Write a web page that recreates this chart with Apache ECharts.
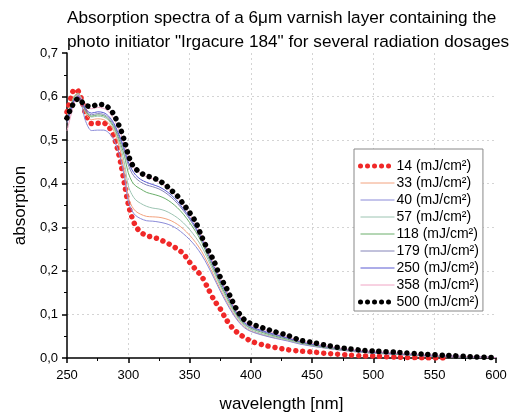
<!DOCTYPE html>
<html>
<head>
<meta charset="utf-8">
<script src="https://cdn.jsdelivr.net/npm/echarts@6/dist/echarts.min.js"></script>
<style>html,body{margin:0;padding:0;background:#fff}#c{width:517px;height:418px}</style>
</head>
<body>
<div id="c"></div>
<script>
var wavelengths = [250,253,256,259,262,265,270,275,280,284,288,291,294,297,300,303,306,310,315,320,325,330,335,340,345,350,355,360,365,370,375,380,385,390,395,400,410,420,430,440,450,460,470,480,490,500,520,540,560,580,600];
var seriesNames = ['14 (mJ/cm²)','33 (mJ/cm²)','40 (mJ/cm²)','57 (mJ/cm²)','118 (mJ/cm²)','179 (mJ/cm²)','250 (mJ/cm²)','358 (mJ/cm²)','500 (mJ/cm²)'];
var dose14 = [0.565,0.595,0.616,0.613,0.592,0.562,0.538,0.539,0.539,0.531,0.510,0.482,0.445,0.398,0.353,0.323,0.303,0.289,0.281,0.277,0.273,0.266,0.259,0.250,0.239,0.220,0.203,0.187,0.160,0.133,0.113,0.088,0.069,0.056,0.047,0.039,0.030,0.024,0.019,0.016,0.014,0.011,0.009,0.007,0.005,0.0045,0.002,0.0005,0.0,null,null];
var dose33 = [0.555,0.580,0.602,0.608,0.594,0.563,0.547,0.549,0.547,0.539,0.522,0.500,0.470,0.425,0.370,0.348,0.337,0.330,0.325,0.324,0.323,0.320,0.315,0.307,0.296,0.282,0.265,0.244,0.217,0.188,0.158,0.131,0.106,0.085,0.071,0.062,0.053,0.046,0.040,0.033,0.028,0.023,0.019,0.016,0.013,0.011,0.008,0.005,0.003,0.002,0.001];
var dose40 = [0.540,0.565,0.588,0.596,0.580,0.545,0.522,0.523,0.523,0.517,0.502,0.482,0.455,0.412,0.360,0.338,0.327,0.320,0.315,0.314,0.312,0.309,0.304,0.296,0.285,0.272,0.256,0.236,0.211,0.183,0.154,0.127,0.103,0.083,0.069,0.061,0.052,0.045,0.039,0.032,0.027,0.023,0.019,0.016,0.013,0.011,0.008,0.005,0.003,0.002,0.001];
var dose57 = [0.553,0.578,0.600,0.607,0.595,0.566,0.553,0.555,0.553,0.545,0.528,0.508,0.482,0.445,0.395,0.375,0.363,0.355,0.348,0.344,0.342,0.338,0.331,0.322,0.310,0.295,0.277,0.255,0.226,0.196,0.165,0.137,0.111,0.089,0.074,0.065,0.055,0.048,0.041,0.034,0.029,0.024,0.020,0.017,0.014,0.012,0.009,0.006,0.004,0.002,0.001];
var dose118 = [0.552,0.576,0.598,0.606,0.594,0.568,0.555,0.558,0.556,0.548,0.532,0.513,0.490,0.462,0.425,0.405,0.395,0.388,0.380,0.376,0.372,0.366,0.357,0.345,0.330,0.311,0.290,0.265,0.233,0.202,0.170,0.142,0.115,0.092,0.077,0.068,0.058,0.050,0.043,0.036,0.030,0.025,0.021,0.018,0.015,0.013,0.009,0.006,0.004,0.002,0.001];
var dose179 = [0.548,0.573,0.595,0.603,0.592,0.570,0.558,0.561,0.559,0.551,0.536,0.518,0.497,0.472,0.443,0.424,0.413,0.404,0.397,0.393,0.388,0.380,0.369,0.355,0.338,0.319,0.296,0.270,0.238,0.206,0.175,0.147,0.119,0.095,0.079,0.070,0.060,0.052,0.045,0.037,0.031,0.026,0.022,0.018,0.015,0.013,0.010,0.007,0.004,0.002,0.001];
var dose250 = [0.545,0.570,0.592,0.600,0.590,0.572,0.562,0.565,0.563,0.555,0.540,0.522,0.502,0.478,0.450,0.432,0.420,0.410,0.403,0.398,0.393,0.385,0.374,0.360,0.342,0.323,0.300,0.274,0.242,0.210,0.178,0.150,0.121,0.097,0.081,0.072,0.062,0.054,0.046,0.038,0.032,0.027,0.023,0.019,0.016,0.014,0.010,0.007,0.005,0.003,0.001];
var dose358 = [0.521,0.555,0.585,0.605,0.595,0.578,0.572,0.575,0.573,0.565,0.550,0.532,0.513,0.490,0.462,0.443,0.432,0.423,0.416,0.411,0.404,0.395,0.383,0.369,0.350,0.330,0.307,0.280,0.246,0.215,0.183,0.155,0.125,0.100,0.084,0.075,0.066,0.057,0.049,0.040,0.034,0.028,0.024,0.020,0.017,0.015,0.011,0.008,0.005,0.003,0.001];
var dose500 = [0.551,0.572,0.587,0.595,0.588,0.580,0.577,0.582,0.581,0.574,0.560,0.542,0.523,0.497,0.466,0.445,0.434,0.425,0.418,0.414,0.407,0.398,0.385,0.372,0.353,0.334,0.312,0.278,0.248,0.222,0.186,0.161,0.130,0.104,0.087,0.079,0.069,0.060,0.052,0.041,0.036,0.030,0.025,0.021,0.018,0.016,0.013,0.009,0.006,0.003,0.001];
var allValues = [dose14,dose33,dose40,dose57,dose118,dose179,dose250,dose358,dose500];
var seriesColors = ['#f02828','#f2a27e','#8a8ad8','#9cc4b2','#6aae6a','#8484b8','#5a5ad2','#f0a4c4','#000000'];

function isDotted(k) { return k === 0 || k === allValues.length - 1; }

var series = allValues.map(function (vals, k) {
  var dotted = isDotted(k);
  var data = [];
  for (var i = 0; i < wavelengths.length; i++) {
    if (vals[i] !== null) data.push([wavelengths[i], vals[i]]);
  }
  return {
    name: seriesNames[k],
    type: 'line',
    data: data,
    symbol: 'none',
    smooth: 0.3,
    z: dotted ? (k === 0 ? 1 : 3) : 2,
    color: seriesColors[k],
    lineStyle: dotted ? { color: seriesColors[k], width: 5.5, type: [0.01, 7], cap: 'round' }
                      : { color: seriesColors[k], width: 1 }
  };
});

var legendData = seriesNames.map(function (n, k) {
  return {
    name: n,
    itemStyle: { opacity: 0 },
    lineStyle: isDotted(k) ? { color: seriesColors[k], width: 5, type: [0.01, 7], cap: 'round' }
                           : { color: seriesColors[k], width: 1 }
  };
});

var chart = echarts.init(document.getElementById('c'), null, { renderer: 'canvas' });
var FONT = 'Liberation Sans, Arial, sans-serif';
chart.setOption({
  animation: false,
  backgroundColor: '#fff',
  title: {
    text: 'Absorption spectra of a 6\u03bcm varnish layer containing the\nphoto initiator "Irgacure 184" for several radiation dosages',
    left: 67, top: 7, padding: 0,
    textStyle: { fontFamily: FONT, fontSize: 17.2, fontWeight: 'normal', color: '#000', lineHeight: 23.5 }
  },
  legend: {
    data: legendData,
    orient: 'vertical',
    left: 354, top: 149,
    itemWidth: 34, itemHeight: 14, itemGap: 3,
    padding: [10, 4, 2, 4],
    borderColor: '#888', borderWidth: 1,
    backgroundColor: '#fff',
    itemStyle: { opacity: 0 },
    textStyle: { fontFamily: FONT, fontSize: 14, color: '#000', padding: [0, 0, 0, -3] }
  },
  grid: { left: 67, right: 21, top: 53, bottom: 54, containLabel: false },
  xAxis: {
    type: 'value', min: 250, max: 600, interval: 50,
    name: 'wavelength [nm]', nameLocation: 'middle', nameGap: 38,
    nameTextStyle: { fontFamily: FONT, fontSize: 17, color: '#000' },
    axisLine: { show: true, onZero: false, lineStyle: { color: '#000', width: 1.5 } },
    axisTick: { show: true, inside: false, length: 5, lineStyle: { color: '#000', width: 1.5 } },
    minorTick: { show: true, splitNumber: 2, length: 3, lineStyle: { color: '#000', width: 1 } },
    axisLabel: { fontFamily: FONT, fontSize: 13, color: '#000', margin: 11 },
    splitLine: { show: true, showMinLine: false, showMaxLine: false, lineStyle: { color: '#d4d4d4', type: [2, 3], width: 1 } }
  },
  yAxis: {
    type: 'value', min: 0, max: 0.7, interval: 0.1,
    name: 'absorption', nameLocation: 'middle', nameGap: 35, nameRotate: 90,
    nameTextStyle: { fontFamily: FONT, fontSize: 17, color: '#000' },
    axisLine: { show: true, onZero: false, lineStyle: { color: '#000', width: 1.5 } },
    axisTick: { show: true, inside: false, length: 5, lineStyle: { color: '#000', width: 1.5 } },
    minorTick: { show: true, splitNumber: 2, length: 3, lineStyle: { color: '#000', width: 1 } },
    axisLabel: { fontFamily: FONT, fontSize: 13, color: '#000', margin: 9,
      formatter: function (v) { return v.toFixed(1).replace('.', ','); } },
    splitLine: { show: true, showMinLine: false, showMaxLine: false, lineStyle: { color: '#d4d4d4', type: [2, 3], width: 1 } }
  },
  series: series
});
</script>
</body>
</html>
